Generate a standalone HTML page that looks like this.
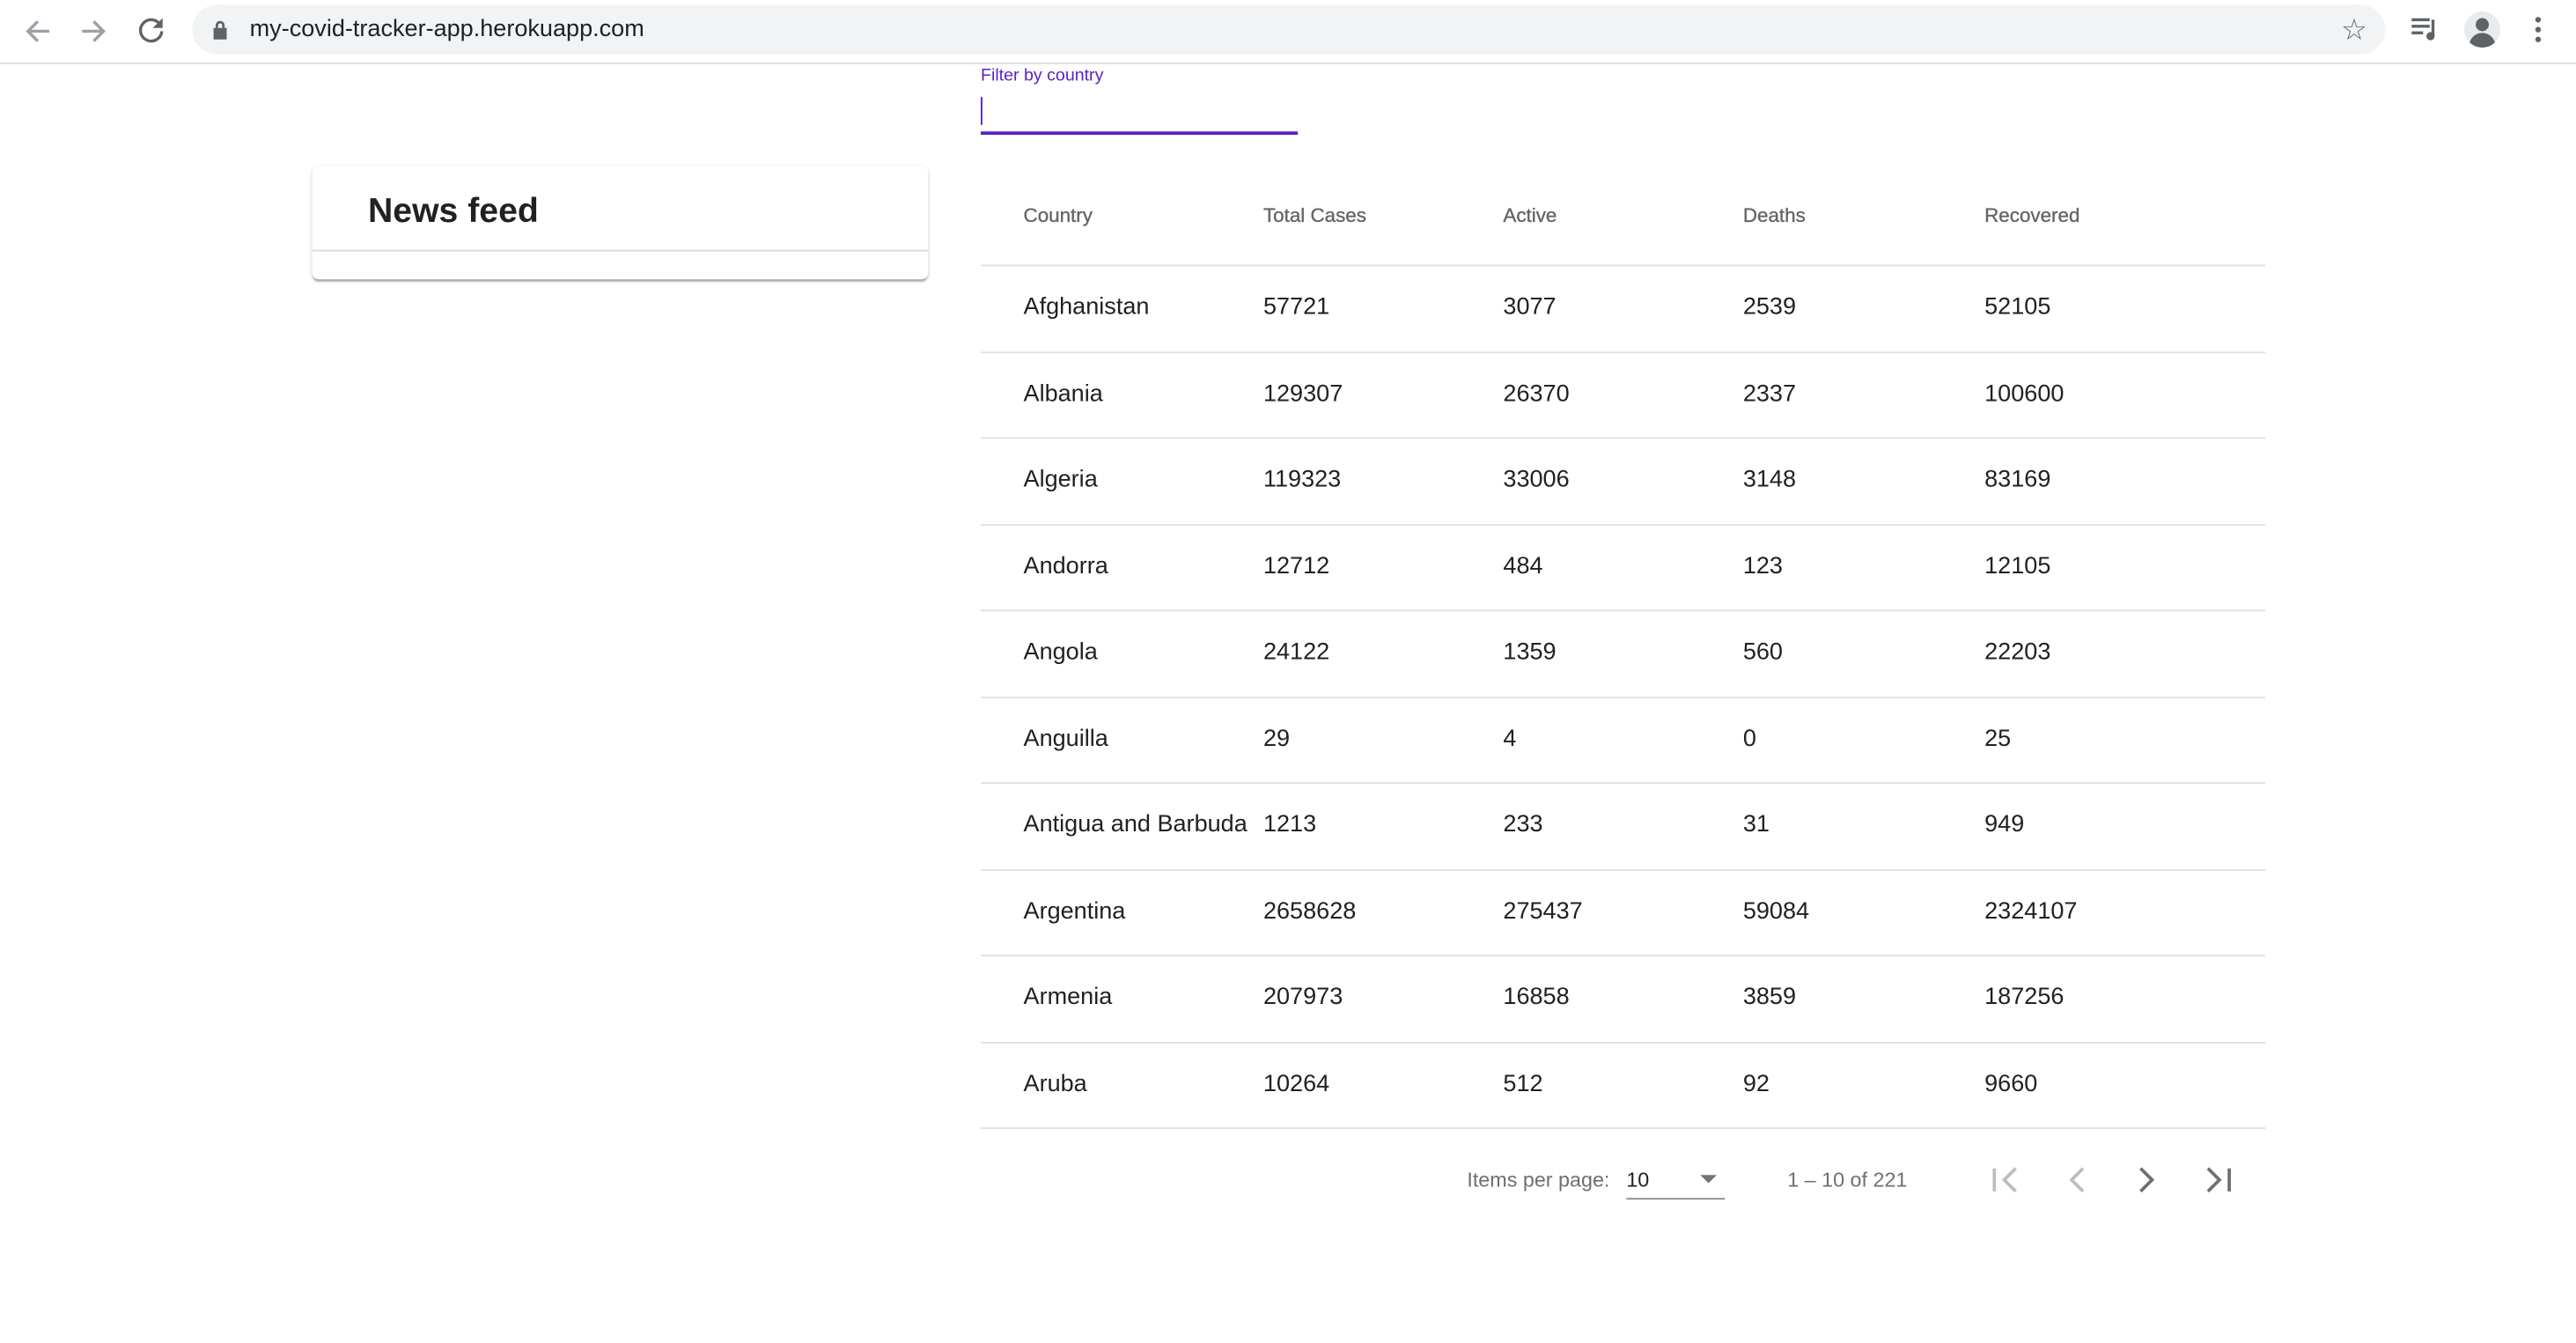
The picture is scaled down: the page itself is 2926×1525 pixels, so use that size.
<!DOCTYPE html>
<html><head><meta charset="utf-8"><style>
html,body{margin:0;padding:0;width:2926px;height:1525px;overflow:hidden;background:#fff;font-family:"Liberation Sans",sans-serif}
#w{position:absolute;left:0;top:0;width:1568px;height:817px;transform:scale(1.866);transform-origin:0 0}
.a{position:absolute;white-space:nowrap}
.bar{position:absolute;left:0;top:0;width:1568px;height:38px;border-bottom:1px solid #dadce0;background:#fff}
.pill{position:absolute;left:117px;top:3px;width:1335px;height:30px;border-radius:15px;background:#f1f3f4}
.hd{font-size:12px;color:#666;top:124px;-webkit-text-stroke:0.2px #666}
.row{position:absolute;left:597px;width:782px;height:52.5px;border-bottom:1px solid #e0e0e0}
.row span{position:absolute;top:18px;font-size:14.5px;color:#212121}
</style></head><body><div id="w">
<div class="bar">
<div class="pill"></div>
<svg class="a" style="left:14px;top:10px" width="18" height="18" viewBox="0 0 18 18"><path d="M16 9H3M9 3L3 9l6 6" stroke="#9aa0a6" stroke-width="1.8" fill="none"/></svg>
<svg class="a" style="left:48px;top:10px" width="18" height="18" viewBox="0 0 18 18"><path d="M2 9h13M9 3l6 6-6 6" stroke="#9aa0a6" stroke-width="1.8" fill="none"/></svg>
<svg class="a" style="left:83px;top:9px" width="18" height="18" viewBox="0 0 18 18"><path d="M14.5 6A6.5 6.5 0 1 0 15.5 10" stroke="#5f6368" stroke-width="1.8" fill="none"/><path d="M16 2v6h-6z" fill="#5f6368"/></svg>
<svg class="a" style="left:129px;top:12px" width="10" height="13" viewBox="0 0 10 13"><rect x="1" y="5" width="8" height="7" fill="#5f6368"/><path d="M3 5V3.5a2 2 0 0 1 4 0V5" stroke="#5f6368" stroke-width="1.5" fill="none"/></svg>
<div class="a" style="left:152px;top:10px;font-size:14.5px;color:#202124">my-covid-tracker-app.herokuapp.com</div>
<div class="a" style="left:1425px;top:8px;font-size:18px;color:#5f6368">☆</div>
<svg class="a" style="left:1467px;top:10px" width="18" height="16" viewBox="0 0 18 16"><path d="M1 2h11M1 6h11M1 10h7M14 2v10" stroke="#5f6368" stroke-width="1.8" fill="none"/><circle cx="12.5" cy="12" r="2.5" fill="#5f6368"/></svg>
<div class="a" style="left:1500px;top:7px;width:22px;height:22px;border-radius:50%;background:#e8eaed;overflow:hidden"><div style="position:absolute;left:7px;top:4px;width:8px;height:8px;border-radius:50%;background:#5f6368"></div><div style="position:absolute;left:3px;top:13px;width:16px;height:12px;border-radius:8px 8px 0 0;background:#5f6368"></div></div>
<svg class="a" style="left:1542px;top:9px" width="6" height="18"><circle cx="3" cy="3" r="1.7" fill="#5f6368"/><circle cx="3" cy="9" r="1.7" fill="#5f6368"/><circle cx="3" cy="15" r="1.7" fill="#5f6368"/></svg>
</div>
<div class="a" style="left:597px;top:40px;font-size:10.5px;color:#5b1fc7">Filter by country</div>
<div class="a" style="left:597px;top:59px;width:1px;height:17px;background:#5b1fc7"></div>
<div class="a" style="left:597px;top:80px;width:193px;height:2px;background:#5b1fc7"></div>
<div class="a" style="left:190px;top:101px;width:375px;height:69px;background:#fff;border-radius:4px;box-shadow:0 2px 1px -1px rgba(0,0,0,.2),0 1px 1px rgba(0,0,0,.14),0 1px 3px rgba(0,0,0,.12)">
<div class="a" style="left:34px;top:16px;font-size:21px;font-weight:bold;color:#212121">News feed</div>
<div class="a" style="left:0;top:51px;width:375px;height:1px;background:#dcdcdc"></div>
</div>
<div class="row" style="top:108px;height:53px;border-bottom:1px solid #e0e0e0"></div>
<div class="a hd" style="left:623px">Country</div>
<div class="a hd" style="left:769px">Total Cases</div>
<div class="a hd" style="left:915px">Active</div>
<div class="a hd" style="left:1061px">Deaths</div>
<div class="a hd" style="left:1208px">Recovered</div>
<div class="row" style="top:161px"><span style="left:26px">Afghanistan</span><span style="left:172px">57721</span><span style="left:318px">3077</span><span style="left:464px">2539</span><span style="left:611px">52105</span></div>
<div class="row" style="top:213.5px"><span style="left:26px">Albania</span><span style="left:172px">129307</span><span style="left:318px">26370</span><span style="left:464px">2337</span><span style="left:611px">100600</span></div>
<div class="row" style="top:266px"><span style="left:26px">Algeria</span><span style="left:172px">119323</span><span style="left:318px">33006</span><span style="left:464px">3148</span><span style="left:611px">83169</span></div>
<div class="row" style="top:318.5px"><span style="left:26px">Andorra</span><span style="left:172px">12712</span><span style="left:318px">484</span><span style="left:464px">123</span><span style="left:611px">12105</span></div>
<div class="row" style="top:371px"><span style="left:26px">Angola</span><span style="left:172px">24122</span><span style="left:318px">1359</span><span style="left:464px">560</span><span style="left:611px">22203</span></div>
<div class="row" style="top:423.5px"><span style="left:26px">Anguilla</span><span style="left:172px">29</span><span style="left:318px">4</span><span style="left:464px">0</span><span style="left:611px">25</span></div>
<div class="row" style="top:476px"><span style="left:26px">Antigua and Barbuda</span><span style="left:172px">1213</span><span style="left:318px">233</span><span style="left:464px">31</span><span style="left:611px">949</span></div>
<div class="row" style="top:528.5px"><span style="left:26px">Argentina</span><span style="left:172px">2658628</span><span style="left:318px">275437</span><span style="left:464px">59084</span><span style="left:611px">2324107</span></div>
<div class="row" style="top:581px"><span style="left:26px">Armenia</span><span style="left:172px">207973</span><span style="left:318px">16858</span><span style="left:464px">3859</span><span style="left:611px">187256</span></div>
<div class="row" style="top:633.5px"><span style="left:26px">Aruba</span><span style="left:172px">10264</span><span style="left:318px">512</span><span style="left:464px">92</span><span style="left:611px">9660</span></div>
<div class="a" style="left:893px;top:711px;font-size:12.5px;color:#6f6f6f">Items per page:</div>
<div class="a" style="left:990px;top:711px;font-size:12.5px;color:#212121">10</div>
<div class="a" style="left:1035px;top:715px;width:0;height:0;border-left:5px solid transparent;border-right:5px solid transparent;border-top:5px solid #757575"></div>
<div class="a" style="left:990px;top:729px;width:60px;height:1px;background:#8a8a8a"></div>
<div class="a" style="left:1088px;top:711px;font-size:12.5px;color:#6f6f6f">1 – 10 of 221</div>
<svg class="a" style="left:1211px;top:709px" width="20" height="18"><path d="M3 2v14" stroke="#bdbdbd" stroke-width="2"/><path d="M16 2l-7 7 7 7" stroke="#bdbdbd" stroke-width="2" fill="none"/></svg>
<svg class="a" style="left:1256px;top:709px" width="16" height="18"><path d="M12 2l-7 7 7 7" stroke="#bdbdbd" stroke-width="2" fill="none"/></svg>
<svg class="a" style="left:1299px;top:709px" width="16" height="18"><path d="M4 2l7 7-7 7" stroke="#6f6f6f" stroke-width="2" fill="none"/></svg>
<svg class="a" style="left:1341px;top:709px" width="20" height="18"><path d="M3 2l7 7-7 7" stroke="#6f6f6f" stroke-width="2" fill="none"/><path d="M16 2v14" stroke="#6f6f6f" stroke-width="2"/></svg>
</div></body></html>
